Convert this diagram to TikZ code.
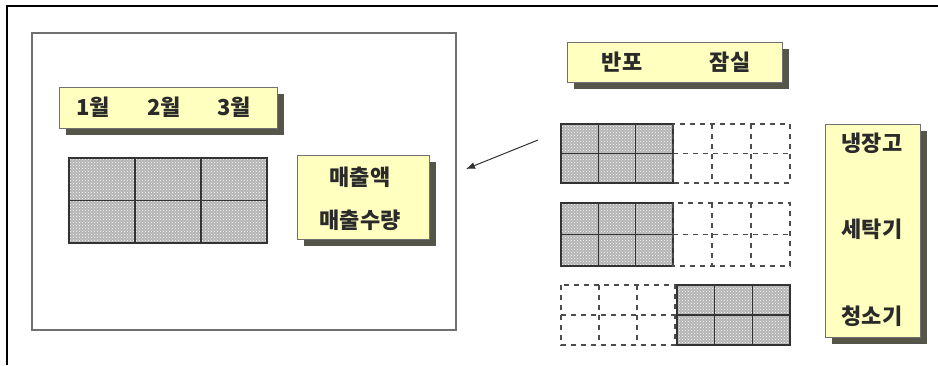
\documentclass[tikz,border=0pt]{standalone}
\usepackage{fontspec}
\newfontfamily\kr{Noto Sans CJK KR}
\usetikzlibrary{patterns,shadows,arrows.meta}
\definecolor{ybg}{HTML}{FFFFC0}
\definecolor{shd}{HTML}{55554A}
\definecolor{cellgray}{HTML}{B4B4B4}
\definecolor{frm}{HTML}{707070}
\definecolor{txt}{HTML}{2A2A2A}
\newcommand\solidgrid[4]{%
  \path[fill=cellgray,postaction={pattern=crosshatch dots,pattern color=white!92!cellgray}] (#1,#2) rectangle (#3,#4);
  \draw[line width=1.6pt,draw=black!80] (#1,#2) rectangle (#3,#4);
  \draw[line width=1.4pt,draw=black!80] ({#1+(#3-#1)/3},#2) -- ({#1+(#3-#1)/3},#4)
    ({#1+2*(#3-#1)/3},#2) -- ({#1+2*(#3-#1)/3},#4)
    (#1,{(#2+#4)/2}) -- (#3,{(#2+#4)/2});}
\newcommand\dashgrid[4]{%
  \draw[line width=1.3pt,draw=black!70,dash pattern=on 5pt off 5pt] (#1,#2) rectangle (#3,#4)
    ({#1+(#3-#1)/3},#2) -- ({#1+(#3-#1)/3},#4)
    ({#1+2*(#3-#1)/3},#2) -- ({#1+2*(#3-#1)/3},#4)
    (#1,{(#2+#4)/2}) -- (#3,{(#2+#4)/2});}
\begin{document}
\begin{tikzpicture}[x=1pt,y=-1pt,
  lbl/.style={font=\kr\bfseries\fontsize{22}{22}\selectfont, text=txt, inner sep=0pt},
  ybox/.style={draw=frm, fill=ybg, line width=1pt, inner sep=0pt,
    drop shadow={shadow xshift=7pt, shadow yshift=-7pt, fill=shd, opacity=1}}]
\useasboundingbox (0,0) rectangle (938,365);
\fill[white] (0,0) rectangle (938,365);
% outer frame (top and left)
\draw[line width=2.5pt] (7,365) -- (7,6) -- (938,6);
% inner box
\node[draw=frm, line width=1.2pt, minimum width=424pt, minimum height=297pt, inner sep=0pt] (panel) at (244,181.5) {};
% month box
\node[ybox, minimum width=218pt, minimum height=41pt] (months) at (168,107.5) {};
\node[lbl] (m1) at (93,107) {1월};
\node[lbl] (m2) at (164,107) {2월};
\node[lbl] (m3) at (234,107) {3월};
% left grid
\solidgrid{69}{158}{267}{243}
% measure box
\node[ybox, minimum width=132pt, minimum height=84pt] (measure) at (363,197) {};
\node[lbl] (amt) at (360,177) {매출액};
\node[lbl] (qty) at (360,220) {매출수량};
% place box
\node[ybox, minimum width=215pt, minimum height=40pt] (places) at (674.5,62) {};
\node[lbl] (p1) at (622,62) {반포};
\node[lbl] (p2) at (730,62) {잠실};
% right grids
\solidgrid{561}{124}{673}{183}
\dashgrid{673}{124}{790}{183}
\solidgrid{561}{203}{673}{266}
\dashgrid{673}{203}{790}{266}
\dashgrid{561}{285}{675}{345}
\solidgrid{677}{285}{790}{345}
% product box
\node[ybox, minimum width=95pt, minimum height=213pt] (products) at (872.5,230.5) {};
\node[lbl] (r1) at (872,143) {냉장고};
\node[lbl] (r2) at (872,229) {세탁기};
\node[lbl] (r3) at (872,316) {청소기};
% arrow
\coordinate (astart) at (538,140);
\coordinate (aend) at (466,169);
\draw[line width=1pt, draw=black!80, -{Latex[length=9pt,width=7pt]}] (astart) -- (aend);
\end{tikzpicture}
\end{document}
